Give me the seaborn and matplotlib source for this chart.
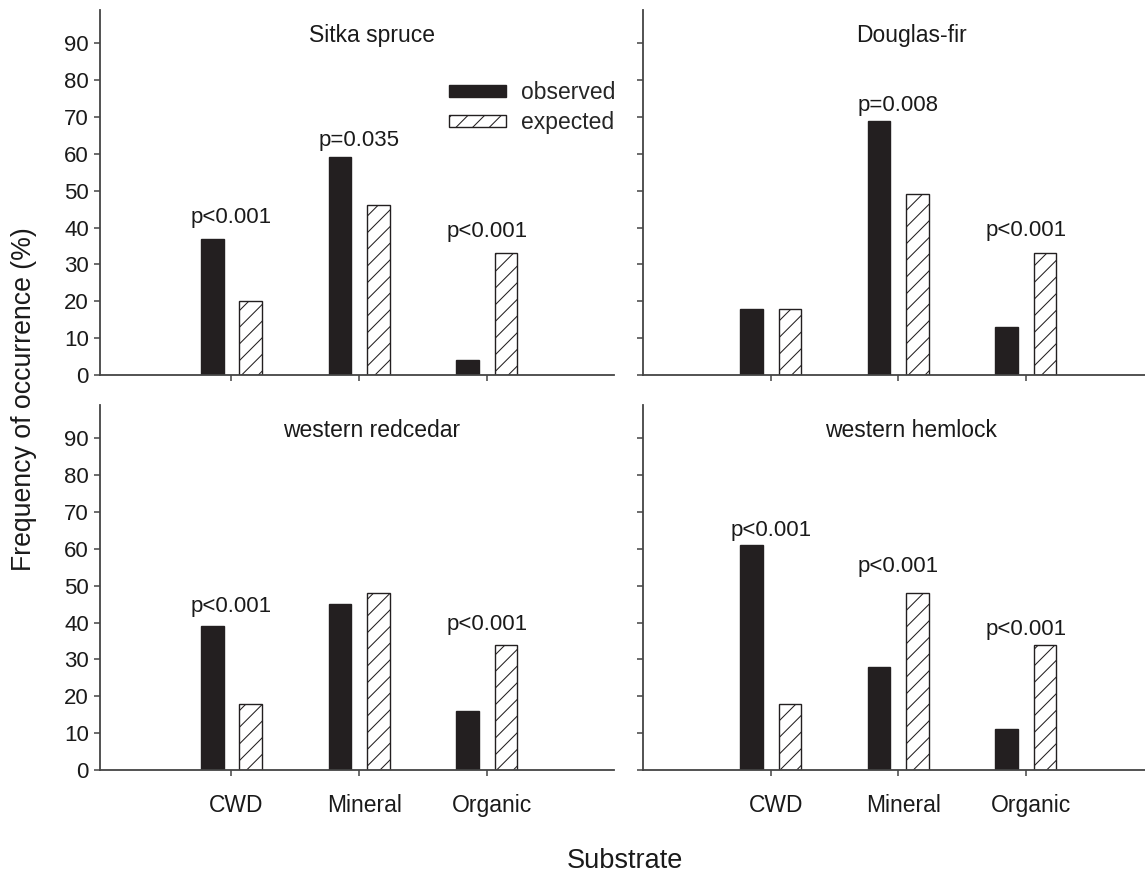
import matplotlib
matplotlib.use("Agg")
import matplotlib.pyplot as plt
from matplotlib.patches import Patch
from matplotlib.transforms import ScaledTranslation
import seaborn as sns
import pandas as pd

# ---------------- data ----------------
categories = ["CWD", "Mineral", "Organic"]
species = ["Sitka spruce", "Douglas-fir", "western redcedar", "western hemlock"]

sitka_observed = [37, 59, 4]
sitka_expected = [20, 46, 33]
douglas_observed = [18, 69, 13]
douglas_expected = [18, 49, 33]
redcedar_observed = [39, 45, 16]
redcedar_expected = [18, 48, 34]
hemlock_observed = [61, 28, 11]
hemlock_expected = [18, 48, 34]

sitka_p = ["p<0.001", "p=0.035", "p<0.001"]
douglas_p = ["", "p=0.008", "p<0.001"]
redcedar_p = ["p<0.001", "", "p<0.001"]
hemlock_p = ["p<0.001", "p<0.001", "p<0.001"]

# baseline heights (data units) of the p-value annotations
sitka_p_y = [41.2, 62.2, 37.4]
douglas_p_y = [0, 71.5, 37.8]
redcedar_p_y = [42.9, 0, 38.1]
hemlock_p_y = [63.6, 53.6, 36.6]

series = ["observed", "expected"]
yticks = [0, 10, 20, 30, 40, 50, 60, 70, 80, 90]

# ---------------- style ----------------
sns.set_style("ticks")
plt.rcParams["font.family"] = ["Liberation Sans", "DejaVu Sans"]
plt.rcParams["hatch.linewidth"] = 0.75
plt.rcParams["hatch.color"] = "#231f20"

DARK = "#231f20"
AX = "#444444"
TXT = "#1a1a1a"

W, H = 1145, 873
fig = plt.figure(figsize=(W / 100, H / 100), dpi=100)

def px_axes(x0, x1, ytop, ybot):
    return fig.add_axes([x0 / W, 1 - ybot / H, (x1 - x0) / W, (ybot - ytop) / H])

panels = [
    (species[0], sitka_observed, sitka_expected, sitka_p, sitka_p_y),
    (species[1], douglas_observed, douglas_expected, douglas_p, douglas_p_y),
    (species[2], redcedar_observed, redcedar_expected, redcedar_p, redcedar_p_y),
    (species[3], hemlock_observed, hemlock_expected, hemlock_p, hemlock_p_y),
]

geoms = [
    (100, 614.3, 10, 375, (-1.03, 3.0)),
    (643.3, 1153.3, 10, 375, (-1.0, 3.0)),
    (100, 614.3, 405, 770, (-1.03, 3.0)),
    (643.3, 1153.3, 405, 770, (-1.0, 3.0)),
]

shift = ScaledTranslation(5 / 100, 0, fig.dpi_scale_trans)

axes = []
for k, ((name, obs, exp, plabs, pys), (x0, x1, yt, yb, xl)) in enumerate(zip(panels, geoms)):
    ax = px_axes(x0, x1, yt, yb)
    axes.append(ax)
    df = pd.DataFrame({
        "Substrate": categories * 2,
        "value": obs + exp,
        "type": [series[0]] * 3 + [series[1]] * 3,
    })
    sns.barplot(data=df, x="Substrate", y="value", hue="type", order=categories,
                hue_order=series, palette={"observed": DARK, "expected": "white"},
                saturation=1, width=0.6, gap=0.41, edgecolor=DARK, linewidth=1.0,
                legend=False, ax=ax)
    for p in ax.containers[1]:
        p.set_hatch("//")
        p.set_facecolor("white")
        p.set_edgecolor(DARK)

    ax.set_xlim(*xl)
    ax.set_ylim(0, 99)
    ax.set_yticks(yticks)
    ax.set_xlabel("")
    ax.set_ylabel("")
    for s in ["top", "right"]:
        ax.spines[s].set_visible(False)
    for s in ["left", "bottom"]:
        ax.spines[s].set_color(AX)
        ax.spines[s].set_linewidth(1.3)
    ax.tick_params(axis="both", direction="out", length=4, width=1.1, color=AX,
                   labelcolor=TXT)
    ax.tick_params(axis="y", pad=4, labelsize=16)
    ax.tick_params(axis="x", pad=13, labelsize=16.5)
    if k in (1, 3):
        ax.tick_params(axis="y", labelleft=False)
    if k in (0, 1):
        ax.tick_params(axis="x", labelbottom=False)
    else:
        for lab in ax.get_xticklabels():
            lab.set_transform(lab.get_transform() + shift)

    ax.text(1.1, 90.4, name, ha="center", va="baseline", fontsize=16.5, color=TXT)
    for i, (lab, yy) in enumerate(zip(plabs, pys)):
        if lab:
            ax.text(i, yy, lab, ha="center", va="baseline", fontsize=16, color=TXT)

handles = [Patch(facecolor=DARK, edgecolor=DARK),
           Patch(facecolor="white", edgecolor=DARK, hatch="//")]
axes[0].legend(handles, series, loc="upper left", bbox_to_anchor=(449 / W, 1 - 81 / H),
               bbox_transform=fig.transFigure, frameon=False, borderpad=0,
               borderaxespad=0, handlelength=2.5, handleheight=0.45,
               handletextpad=0.65, labelspacing=0.3, fontsize=16.5)

fig.text(24 / W, 1 - 399 / H, "Frequency of occurrence (%)", rotation=90,
         ha="center", va="center", fontsize=19.2, color=TXT)
fig.text(625 / W, 1 - 868 / H, "Substrate", ha="center", va="baseline",
         fontsize=19.5, color=TXT)

fig.savefig("out.png", dpi=100)
